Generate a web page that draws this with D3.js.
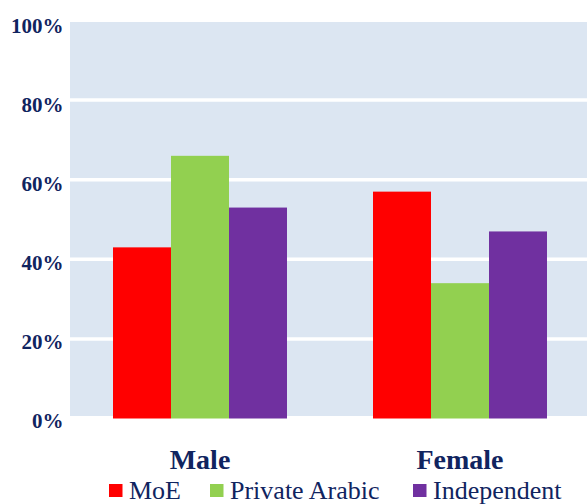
<!DOCTYPE html>
<html>
<head>
<meta charset="utf-8">
<script src="https://cdn.jsdelivr.net/npm/d3@7"></script>
<style>
html,body{margin:0;padding:0;background:#fff;}
svg{display:block;}
</style>
</head>
<body>
<svg id="chart" width="587" height="504"></svg>
<script>
const categories = ["Male", "Female"];
const seriesNames = ["MoE", "Private Arabic", "Independent"];
const seriesColors = ["#ff0000", "#92d050", "#7030a0"];
const moeValues = [43, 57];
const privateArabicValues = [66, 34];
const independentValues = [53, 47];
const yTicks = [0, 20, 40, 60, 80, 100];
const yTickLabels = ["0%", "20%", "40%", "60%", "80%", "100%"];

const seriesValues = [moeValues, privateArabicValues, independentValues];
const textColor = "#10245f";
const svg = d3.select("#chart");

const y = d3.scaleLinear().domain([0, 100]).range([418.5, 20.5]);
const yLabel = d3.scaleLinear().domain([0, 100]).range([428, 32.5]);
const x0 = d3.scaleBand().domain(categories).range([70, 590]).paddingInner(0.3308).paddingOuter(0.1654);
const x1 = d3.scaleBand().domain(seriesNames).range([0, x0.bandwidth()]);

// plot background
svg.append("rect")
  .attr("x", 70).attr("y", y(100) + 1.5)
  .attr("width", 517).attr("height", y(0) - 2.5 - (y(100) + 1.5))
  .attr("fill", "#dce6f2");

// gridlines
svg.append("g").selectAll("line")
  .data(yTicks.filter(d => d > 0 && d < 100))
  .join("line")
  .attr("x1", 70).attr("x2", 587)
  .attr("y1", d => y(d)).attr("y2", d => y(d))
  .attr("stroke", "#ffffff").attr("stroke-width", 3.5);

// bars
const groups = svg.append("g").selectAll("g")
  .data(categories)
  .join("g")
  .attr("transform", d => `translate(${x0(d)},0)`);

groups.selectAll("rect")
  .data((c, ci) => seriesNames.map((s, si) => ({s, si, v: seriesValues[si][ci]})))
  .join("rect")
  .attr("x", d => x1(d.s))
  .attr("width", x1.bandwidth())
  .attr("y", d => y(d.v))
  .attr("height", d => y(0) - y(d.v))
  .attr("fill", d => seriesColors[d.si]);

// y axis labels
svg.append("g").selectAll("text")
  .data(yTicks)
  .join("text")
  .attr("x", 63.5)
  .attr("y", d => yLabel(d))
  .attr("text-anchor", "end")
  .attr("font-family", "'Liberation Serif', 'Times New Roman', serif")
  .attr("font-weight", "bold")
  .attr("font-size", 21)
  .attr("fill", textColor)
  .text((d, i) => yTickLabels[i]);

// category labels
svg.append("g").selectAll("text")
  .data(categories)
  .join("text")
  .attr("x", d => x0(d) + x0.bandwidth() / 2)
  .attr("y", 469)
  .attr("text-anchor", "middle")
  .attr("font-family", "'Liberation Serif', 'Times New Roman', serif")
  .attr("font-weight", "bold")
  .attr("font-size", 28)
  .attr("fill", textColor)
  .text(d => d);

// legend
const legendX = [109, 210, 413];
const lg = svg.append("g").selectAll("g")
  .data(seriesNames)
  .join("g")
  .attr("transform", (d, i) => `translate(${legendX[i]},0)`);
lg.append("rect")
  .attr("x", 0).attr("y", 484)
  .attr("width", 13.5).attr("height", 13)
  .attr("fill", (d, i) => seriesColors[i]);
lg.append("text")
  .attr("x", 20).attr("y", 498.5)
  .attr("font-family", "'Liberation Serif', 'Times New Roman', serif")
  .attr("font-size", 26)
  .attr("fill", textColor)
  .text(d => d);
</script>
</body>
</html>
